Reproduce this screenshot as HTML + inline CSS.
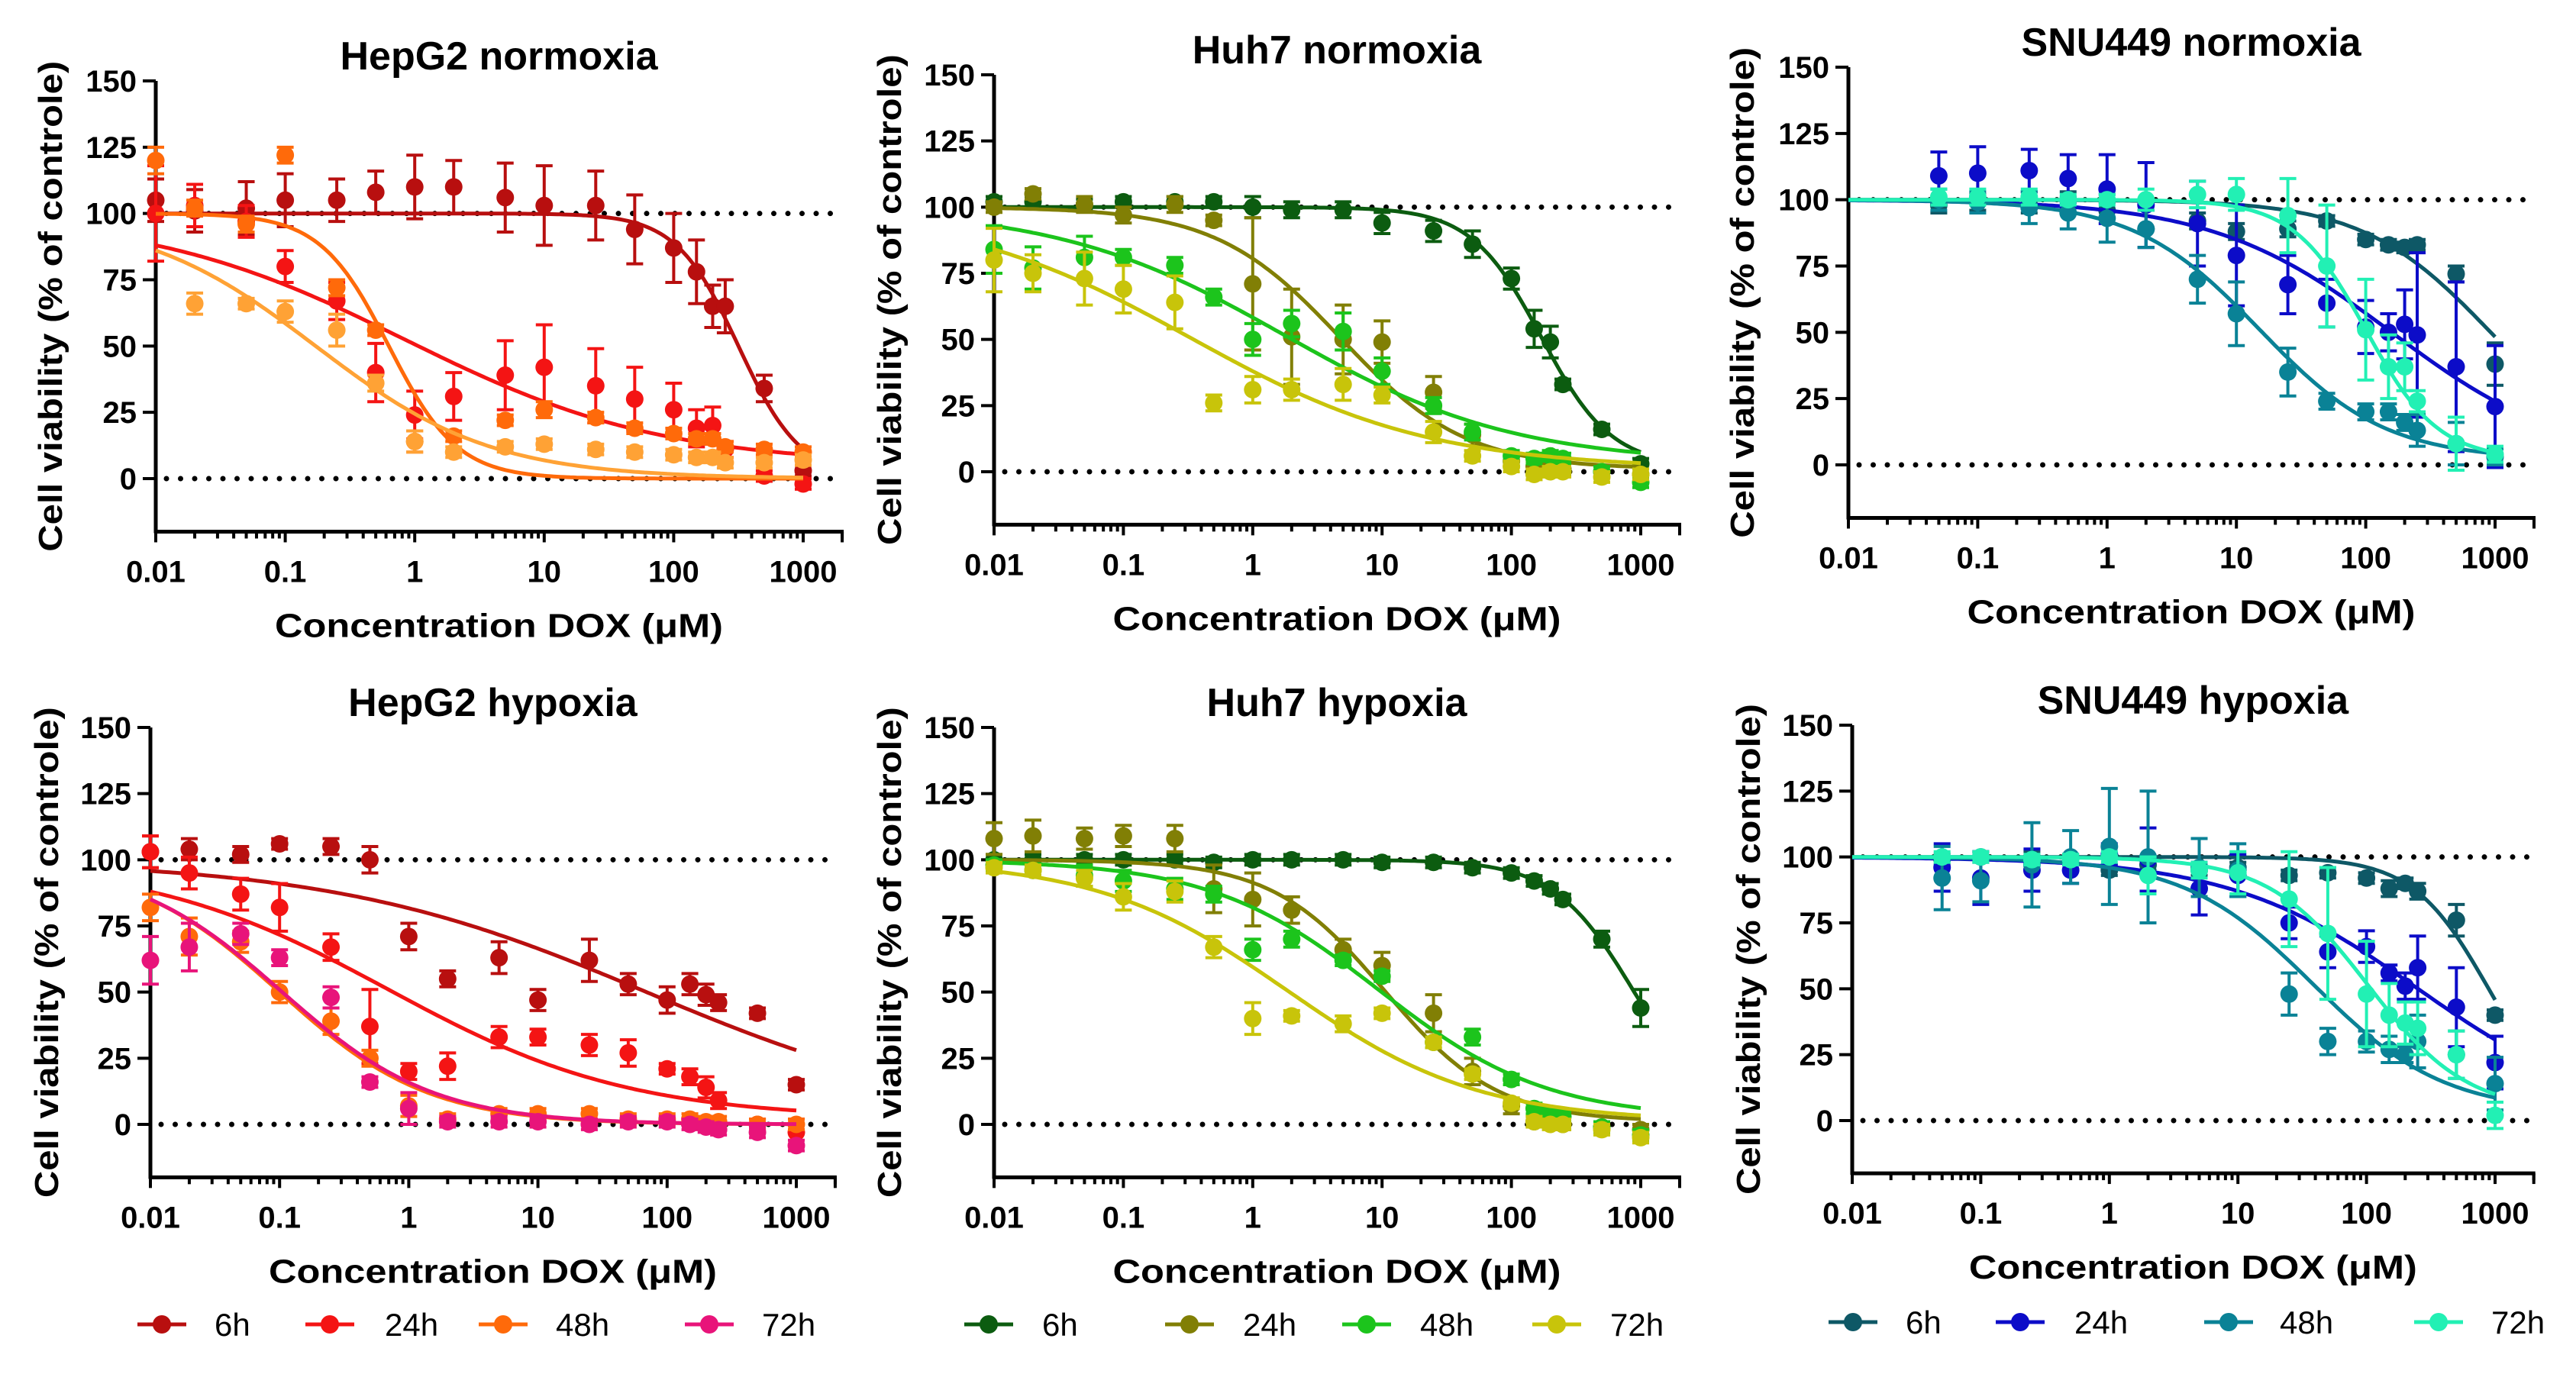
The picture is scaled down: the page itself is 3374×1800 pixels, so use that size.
<!DOCTYPE html>
<html><head><meta charset="utf-8"><style>
html,body{margin:0;padding:0;background:#fff;}
svg{display:block;font-family:"Liberation Sans",Arial,sans-serif;}
</style></head><body>
<svg id="fig" width="3374" height="1800" viewBox="0 0 3374 1800" xmlns="http://www.w3.org/2000/svg"></svg>
<script>
// ---------- data ----------
const conc = [0.01,0.02,0.05,0.1,0.25,0.5,1,2,5,10,25,50,100,150,200,250,500,1000];
const concSNU = [0.05,0.1,0.25,0.5,1,2,5,10,25,50,100,150,200,250,500,1000];
const seriesLabels = ["6h","24h","48h","72h"];

const hepNor6 = [105,101,102,105,105,108,110,110,106,103,103,94,87,78,65,65,34,3];
const hepNor6Err = [8,8,10,10,8,8,12,10,13,15,13,13,13,12,8,10,5,2];
const hepNor24 = [100,103,97,80,67,40,24,31,39,42,35,30,26,19,20,11,1,-2];
const hepNor24Err = [18,8,6,6,7,11,9,9,13,16,14,12,10,7,7,3,2,2];
const hepNor48 = [120,102,96,122,72,56,14,16,22,26,23,19,17,15,15,12,11,10];
const hepNor48Err = [5,3,3,3,3,2,4,2,2,3,2,2,2,2,2,2,2,2];
const hepNor72 = [null,66,66,63,56,36,14,10,12,13,11,10,9,8,8,6,6,7];
const hepNor72Err = [0,4,2,4,6,3,4,2,2,2,2,2,2,2,2,2,2,2];
const hepNorFits = [[100,0,2.5,1.8],[100,5,-0.078,0.437],[100,0,-0.2,1.64],[100,0,-0.765,0.64]];

const huhNor6 = [102,102,101,102,102,102,100,99,99,94,91,86,73,54,49,33,16,3];
const huhNor6Err = [2,2,2,2,2,2,4,3,3,4,4,5,4,7,6,2,2,2];
const huhNor24 = [100,105,101,97,101,95,71,51,50,49,30,14,4,2,1,1,0,-1];
const huhNor24Err = [2,2,3,3,3,2,25,18,13,8,6,4,2,2,2,2,2,2];
const huhNor48 = [84,77,81,81,78,66,50,56,53,38,25,15,6,5,6,5,0,-4];
const huhNor48Err = [9,8,8,3,3,3,6,5,7,5,3,3,2,2,2,2,2,2];
const huhNor72 = [80,75,73,69,64,26,31,31,33,29,15,6,2,-1,0,0,-2,-1];
const huhNor72Err = [12,7,10,9,10,3,5,4,6,3,4,2,2,2,2,2,2,2];
const huhNorFits = [[100,2,2.23,1.6],[100,1,0.68,0.9],[100,3,0.25,0.49],[100,1,-0.477,0.47]];

const snuNor6 = [98,99,98,100,96,89,92,88,89,92,85,83,82,83,72,38];
const snuNor6Err = [3,3,3,3,3,7,3,3,3,2,2,2,2,2,3,8];
const snuNor24 = [109,110,111,108,104,98,91,79,68,61,52,50,53,49,37,22];
const snuNor24Err = [9,10,8,9,13,16,16,19,11,9,10,7,13,31,32,23];
const snuNor48 = [100,99,97,95,93,89,70,57,35,24,20,20,16,13,8,3];
const snuNor48Err = [4,4,6,6,9,7,9,12,9,3,3,3,3,6,8,3];
const snuNor72 = [101,101,101,100,100,100,102,102,94,75,51,37,37,24,8,4];
const snuNor72Err = [3,3,3,2,2,4,5,6,14,23,19,12,9,4,10,3];
const snuNorFits = [[100,0,2.966,0.875],[100,0,2.2,0.627],[100,2,1.18,0.889],[100,2,2.0,1.55]];

const hepHyp6 = [103,104,102,106,105,100,71,55,63,47,62,53,47,53,49,46,42,15];
const hepHyp6Err = [6,4,3,2,3,5,5,3,6,4,8,4,5,4,4,3,2,2];
const hepHyp24 = [103,95,87,82,67,37,20,22,33,33,30,27,21,18,14,9,0,-3];
const hepHyp24Err = [6,6,6,9,5,14,3,5,4,3,4,5,2,3,4,3,2,5];
const hepHyp48 = [82,71,69,50,39,25,7,2,4,4,4,2,2,2,1,1,0,0];
const hepHyp48Err = [5,7,4,4,5,3,4,2,2,2,2,2,2,2,2,2,2,2];
const hepHyp72 = [62,67,72,63,48,16,6,1,1,1,0,1,1,0,-1,-2,-3,-8];
const hepHyp72Err = [9,9,4,3,4,2,6,2,2,2,2,2,2,2,2,2,2,2];
const hepHypFits = [[100,0,1.84,0.353],[100,2,-0.159,0.464],[100,0,-1,0.754],[100,0,-0.98,0.74]];

const huhHyp6 = [100,100,100,100,100,99,100,100,100,99,99,97,95,92,89,85,70,44];
const huhHyp6Err = [2,2,2,2,2,2,2,2,2,2,2,2,2,2,2,2,3,7];
const huhHyp24 = [108,109,108,109,108,89,85,81,66,60,42,20,7,1,1,0,-1,-2];
const huhHyp24Err = [6,6,4,4,5,9,10,5,4,5,7,5,3,2,2,2,2,2];
const huhHyp48 = [98,96,94,92,89,87,66,70,62,56,31,33,17,6,4,3,-1,-4];
const huhHyp48Err = [2,2,4,4,4,3,4,3,2,2,2,3,2,2,2,2,2,2];
const huhHyp72 = [97,96,93,86,88,67,40,41,38,42,31,19,8,1,0,0,-2,-5];
const huhHyp72Err = [2,2,3,5,4,4,6,2,3,2,2,2,2,2,2,2,2,2];
const huhHypFits = [[100,0,2.95,1.39],[100,1,1.02,1.0],[100,2,0.97,0.666],[100,1,0.27,0.59]];

const snuHyp6 = [99,100,100,99,95,97,95,96,93,94,92,88,90,87,76,40];
const snuHyp6Err = [2,2,2,2,2,2,2,2,2,2,2,3,2,3,6,2];
const snuHyp24 = [96,92,95,95,101,99,88,93,75,64,66,56,51,58,43,22];
const snuHyp24Err = [9,10,8,5,4,12,10,8,6,6,6,3,5,12,15,10];
const snuHyp48 = [92,91,97,100,104,100,96,95,48,30,30,27,25,30,25,14];
const snuHyp48Err = [12,8,16,10,22,25,11,10,8,5,4,5,3,10,9,10];
const snuHyp72 = [100,100,99,99,100,93,95,94,84,71,48,40,37,35,25,2];
const snuHyp72Err = [2,2,2,2,2,7,3,8,18,25,20,12,8,10,9,5];
const snuHypFits = [[100,0,2.95,1.47],[100,0,2.4,0.59],[100,3,1.59,0.856],[100,3,2.01,1.12]];

const yTicks = [0,25,50,75,100,125,150];
const xTickLabels = ["0.01","0.1","1","10","100","1000"];

const redColors = ["#b80f0f","#f41414","#ff6a0a","#ffa235"];
const redHypColors = ["#b80f0f","#f41414","#ff6a0a","#e8147a"];
const greenColors = ["#0c5c10","#817f05","#1cc41c","#c8c40a"];
const blueColors = ["#0e5866","#0c0cc8","#0a8296","#22f0b4"];

// ---------- drawing ----------
const NS = "http://www.w3.org/2000/svg";
const svg = document.getElementById('fig');
function mk(tag, attrs, parent){
  const e = document.createElementNS(NS, tag);
  for (const k in attrs) e.setAttribute(k, attrs[k]);
  (parent||svg).appendChild(e);
  return e;
}

const panels = [
  {id:"hepg2-normoxia", title:"HepG2 normoxia", ax:204, x1000:1052, y150:106, y0:627, c:conc,
   vals:[hepNor6,hepNor24,hepNor48,hepNor72], errs:[hepNor6Err,hepNor24Err,hepNor48Err,hepNor72Err], fits:hepNorFits, colors:redColors, legend:null, ytx:66},
  {id:"huh7-normoxia", title:"Huh7 normoxia", ax:1302, x1000:2149, y150:98, y0:618, c:conc,
   vals:[huhNor6,huhNor24,huhNor48,huhNor72], errs:[huhNor6Err,huhNor24Err,huhNor48Err,huhNor72Err], fits:huhNorFits, colors:greenColors, legend:null, ytx:1165},
  {id:"snu449-normoxia", title:"SNU449 normoxia", ax:2421, x1000:3268, y150:88, y0:609, c:concSNU,
   vals:[snuNor6,snuNor24,snuNor48,snuNor72], errs:[snuNor6Err,snuNor24Err,snuNor48Err,snuNor72Err], fits:snuNorFits, colors:blueColors, legend:null, ytx:2282},
  {id:"hepg2-hypoxia", title:"HepG2 hypoxia", ax:197, x1000:1043, y150:953, y0:1473, c:conc,
   vals:[hepHyp6,hepHyp24,hepHyp48,hepHyp72], errs:[hepHyp6Err,hepHyp24Err,hepHyp48Err,hepHyp72Err], fits:hepHypFits, colors:redHypColors,
   legend:{y:1735, lines:[180,400,627,897], texts:[281,504,728,998]}, ytx:61},
  {id:"huh7-hypoxia", title:"Huh7 hypoxia", ax:1302, x1000:2149, y150:953, y0:1473, c:conc,
   vals:[huhHyp6,huhHyp24,huhHyp48,huhHyp72], errs:[huhHyp6Err,huhHyp24Err,huhHyp48Err,huhHyp72Err], fits:huhHypFits, colors:greenColors,
   legend:{y:1735, lines:[1263,1526,1758,2007], texts:[1365,1628,1860,2109]}, ytx:1165},
  {id:"snu449-hypoxia", title:"SNU449 hypoxia", ax:2426, x1000:3268, y150:950, y0:1468, c:concSNU,
   vals:[snuHyp6,snuHyp24,snuHyp48,snuHyp72], errs:[snuHyp6Err,snuHyp24Err,snuHyp48Err,snuHyp72Err], fits:snuHypFits, colors:blueColors,
   legend:{y:1732, lines:[2395,2614,2887,3162], texts:[2496,2717,2986,3263]}, ytx:2290}
];

function logistic(f, lx){ return f[1] + (f[0]-f[1])/(1+Math.pow(10,(lx-f[2])*f[3])); }

panels.forEach(p=>{
  const dec = (p.x1000 - p.ax)/5;
  const xs = v => p.ax + (Math.log10(v)+2)*dec;
  const k = (p.y0 - p.y150)/150;
  const ys = v => p.y0 - v*k;
  const xEnd = xs(2000), yBot = ys(-20);
  const g = mk('g', {});
  
  
  const cx = (p.ax + xEnd)/2;

  // title
  const t = mk('text', {x:cx, y:p.y150-15, 'text-anchor':'middle', 'font-size':52, 'font-weight':'bold'}, g);
  t.textContent = p.title;
  
  

  // dotted reference lines
  [100,0].forEach(v=>{
    const l = mk('line', {x1:p.ax+14, x2:xEnd, y1:ys(v), y2:ys(v), stroke:'#000', 'stroke-width':7, 'stroke-linecap':'round', 'stroke-dasharray':'0 18.5'}, g);
    
    
  });

  // axes
  const yAx = mk('line', {x1:p.ax, x2:p.ax, y1:p.y150, y2:yBot+2, stroke:'#000', 'stroke-width':5}, g);
  
  
  const xAx = mk('line', {x1:p.ax-2, x2:xEnd+2, y1:yBot, y2:yBot, stroke:'#000', 'stroke-width':5}, g);
  
  

  yTicks.forEach(v=>{
    mk('line', {x1:p.ax-17, x2:p.ax, y1:ys(v), y2:ys(v), stroke:'#000', 'stroke-width':4}, g);
    const tl = mk('text', {x:p.ax-25, y:ys(v)+14, 'text-anchor':'end', 'font-size':40, 'font-weight':'bold'}, g);
    tl.textContent = String(v);
    
    
  });
  for (let d=-2; d<=3; d++){
    for (let m=1; m<=9; m++){
      const v = m*Math.pow(10,d);
      if (v>2000.001) break;
      const len = m===1 ? 14 : 9;
      mk('line', {x1:xs(v), x2:xs(v), y1:yBot, y2:yBot+len, stroke:'#000', 'stroke-width':4}, g);
    }
  }
  mk('line', {x1:xEnd, x2:xEnd, y1:yBot, y2:yBot+14, stroke:'#000', 'stroke-width':4}, g);
  xTickLabels.forEach((lab,i)=>{
    const tl = mk('text', {x:xs(Math.pow(10,i-2)), y:yBot+66, 'text-anchor':'middle', 'font-size':40, 'font-weight':'bold'}, g);
    tl.textContent = lab;
    
    
  });

  // axis titles
  const xt = mk('text', {x:cx, y:yBot+138, 'text-anchor':'middle', 'font-size':44, 'font-weight':'bold', textLength:587, lengthAdjust:'spacingAndGlyphs'}, g);
  xt.textContent = 'Concentration DOX (\u03bcM)';
  
  
  const ymid = (p.y150-30 + yBot+30)/2;
  const yt = mk('text', {x:0, y:0, 'text-anchor':'middle', 'font-size':44, 'font-weight':'bold', textLength:643, lengthAdjust:'spacingAndGlyphs',
    transform:'translate('+(p.ytx+15)+','+ymid+') rotate(-90)'}, g);
  yt.textContent = 'Cell viability (% of controle)';
  
  

  // series
  p.vals.forEach((vals, si)=>{
    const col = p.colors[si];
    const sg = mk('g', {}, g);
    
    
    // fitted curve
    let d = '';
    for (let i=0;i<=200;i++){
      const lx = -2 + 5*i/200;
      const px = p.ax + (lx+2)*dec, py = ys(logistic(p.fits[si], lx));
      d += (i?'L':'M')+px.toFixed(1)+' '+py.toFixed(1);
    }
    const cv = mk('path', {d:d, fill:'none', stroke:col, 'stroke-width':5}, sg);
    
    
    vals.forEach((v, i)=>{
      if (v===null || v===undefined) return;
      const px = xs(p.c[i]), py = ys(v), e = p.errs[si][i];
      if (e > 1.5){
        mk('line', {x1:px, x2:px, y1:ys(v+e), y2:ys(v-e), stroke:col, 'stroke-width':4}, sg);
        mk('line', {x1:px-11, x2:px+11, y1:ys(v+e), y2:ys(v+e), stroke:col, 'stroke-width':4}, sg);
        mk('line', {x1:px-11, x2:px+11, y1:ys(v-e), y2:ys(v-e), stroke:col, 'stroke-width':4}, sg);
      }
      const c = mk('circle', {cx:px, cy:py, r:11.5, fill:col}, sg);
      
      
    });
  });

  // legend
  if (p.legend){
    const lg = mk('g', {}, g);
    
    
    seriesLabels.forEach((lab, si)=>{
      const lx = p.legend.lines[si], ly = p.legend.y;
      const eg = mk('g', {}, lg);
      
      
      mk('line', {x1:lx, x2:lx+64, y1:ly, y2:ly, stroke:p.colors[si], 'stroke-width':5}, eg);
      mk('circle', {cx:lx+32, cy:ly, r:12, fill:p.colors[si]}, eg);
      const tx = mk('text', {x:p.legend.texts[si], y:ly+15, 'font-size':42}, eg);
      tx.textContent = lab;
    });
  }
});
</script>
</body></html>
